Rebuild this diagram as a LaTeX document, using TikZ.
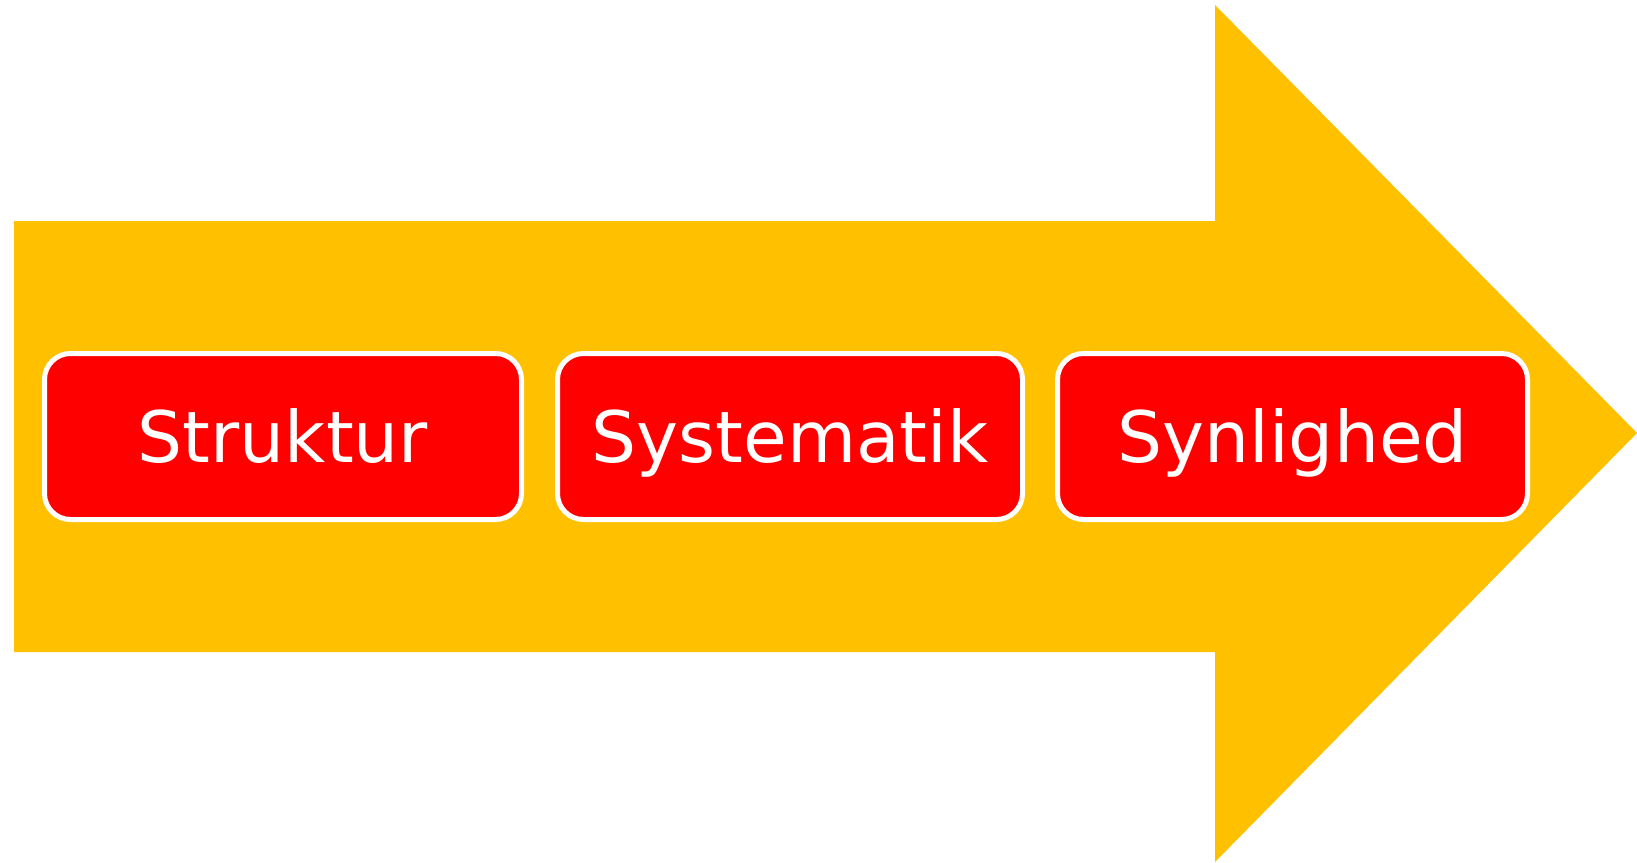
\documentclass[tikz,border=0pt]{standalone}
\usepackage{fontspec}
\setmainfont{DejaVu Sans}
\definecolor{arrowyellow}{HTML}{FFC000}
\definecolor{boxred}{HTML}{FF0000}
\tikzset{
  bigarrow/.style={fill=arrowyellow, draw=none},
  stagebox/.style={rectangle, rounded corners=26pt, fill=boxred, draw=white,
    line width=5pt, inner sep=0pt, minimum height=166pt,
    text=white, font=\fontsize{71}{85}\selectfont,
    text height=52pt, text depth=0pt, align=center}
}
\begin{document}
\begin{tikzpicture}[x=1pt,y=-1pt]
\useasboundingbox (0,0) rectangle (1637,862);
\fill[bigarrow] (14,221) -- (1215,221) -- (1215,5) -- (1637,433) -- (1215,862) -- (1215,652) -- (14,652) -- cycle;
\node[stagebox, minimum width=477pt] (struktur) at (283,436.5) {Struktur};
\node[stagebox, minimum width=465pt] (systematik) at (790,436.5) {Systematik};
\node[stagebox, minimum width=470pt] (synlighed) at (1292.5,436.5) {Synlighed};
\end{tikzpicture}
\end{document}
